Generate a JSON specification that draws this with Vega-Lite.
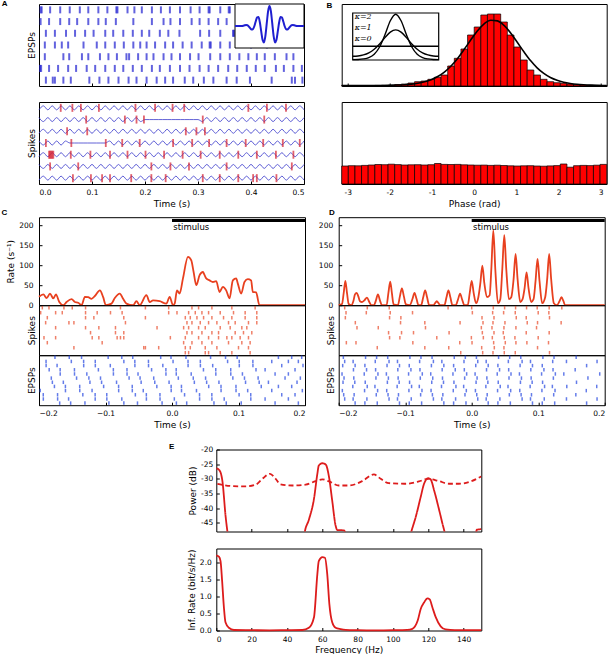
{
"$schema":"https://vega.github.io/schema/vega-lite/v6.json",
"padding":{"left":0,"top":-1,"right":2,"bottom":2},
"background":"white",
"datasets":{
"aTop":[
{"t":0.003,"r":1},{"t":0.005,"r":1},{"t":0.021,"r":1},{"t":0.040,"r":1},{"t":0.058,"r":1},{"t":0.077,"r":1},{"t":0.093,"r":1},{"t":0.112,"r":1},{"t":0.129,"r":1},{"t":0.146,"r":1},{"t":0.148,"r":1},{"t":0.167,"r":1},{"t":0.180,"r":1},{"t":0.194,"r":1},{"t":0.213,"r":1},{"t":0.230,"r":1},{"t":0.247,"r":1},{"t":0.266,"r":1},{"t":0.286,"r":1},{"t":0.303,"r":1},{"t":0.320,"r":1},{"t":0.322,"r":1},{"t":0.342,"r":1},{"t":0.358,"r":1},{"t":0.360,"r":1},{"t":0.380,"r":1},{"t":0.400,"r":1},{"t":0.440,"r":1},{"t":0.470,"r":1},
{"t":0.003,"r":2},{"t":0.019,"r":2},{"t":0.040,"r":2},{"t":0.057,"r":2},{"t":0.072,"r":2},{"t":0.093,"r":2},{"t":0.112,"r":2},{"t":0.126,"r":2},{"t":0.145,"r":2},{"t":0.178,"r":2},{"t":0.213,"r":2},{"t":0.235,"r":2},{"t":0.248,"r":2},{"t":0.266,"r":2},{"t":0.288,"r":2},{"t":0.303,"r":2},{"t":0.320,"r":2},{"t":0.338,"r":2},{"t":0.354,"r":2},{"t":0.390,"r":2},{"t":0.420,"r":2},{"t":0.450,"r":2},
{"t":0.013,"r":3},{"t":0.030,"r":3},{"t":0.051,"r":3},{"t":0.068,"r":3},{"t":0.087,"r":3},{"t":0.103,"r":3},{"t":0.125,"r":3},{"t":0.140,"r":3},{"t":0.159,"r":3},{"t":0.177,"r":3},{"t":0.194,"r":3},{"t":0.208,"r":3},{"t":0.228,"r":3},{"t":0.244,"r":3},{"t":0.265,"r":3},{"t":0.304,"r":3},{"t":0.321,"r":3},{"t":0.342,"r":3},{"t":0.366,"r":3},{"t":0.368,"r":3},{"t":0.410,"r":3},{"t":0.460,"r":3},
{"t":0.011,"r":4},{"t":0.030,"r":4},{"t":0.043,"r":4},{"t":0.055,"r":4},{"t":0.084,"r":4},{"t":0.109,"r":4},{"t":0.125,"r":4},{"t":0.143,"r":4},{"t":0.160,"r":4},{"t":0.178,"r":4},{"t":0.191,"r":4},{"t":0.203,"r":4},{"t":0.219,"r":4},{"t":0.238,"r":4},{"t":0.253,"r":4},{"t":0.271,"r":4},{"t":0.288,"r":4},{"t":0.307,"r":4},{"t":0.322,"r":4},{"t":0.324,"r":4},{"t":0.342,"r":4},{"t":0.360,"r":4},{"t":0.400,"r":4},{"t":0.430,"r":4},
{"t":0.011,"r":5},{"t":0.046,"r":5},{"t":0.057,"r":5},{"t":0.081,"r":5},{"t":0.093,"r":5},{"t":0.115,"r":5},{"t":0.131,"r":5},{"t":0.147,"r":5},{"t":0.165,"r":5},{"t":0.170,"r":5},{"t":0.187,"r":5},{"t":0.203,"r":5},{"t":0.216,"r":5},{"t":0.235,"r":5},{"t":0.250,"r":5},{"t":0.266,"r":5},{"t":0.285,"r":5},{"t":0.301,"r":5},{"t":0.323,"r":5},{"t":0.342,"r":5},{"t":0.360,"r":5},{"t":0.378,"r":5},{"t":0.395,"r":5},{"t":0.411,"r":5},{"t":0.426,"r":5},{"t":0.445,"r":5},{"t":0.467,"r":5},{"t":0.480,"r":5},
{"t":0.002,"r":6},{"t":0.004,"r":6},{"t":0.019,"r":6},{"t":0.036,"r":6},{"t":0.055,"r":6},{"t":0.070,"r":6},{"t":0.090,"r":6},{"t":0.106,"r":6},{"t":0.125,"r":6},{"t":0.143,"r":6},{"t":0.159,"r":6},{"t":0.177,"r":6},{"t":0.194,"r":6},{"t":0.213,"r":6},{"t":0.228,"r":6},{"t":0.247,"r":6},{"t":0.266,"r":6},{"t":0.284,"r":6},{"t":0.303,"r":6},{"t":0.320,"r":6},{"t":0.338,"r":6},{"t":0.357,"r":6},{"t":0.374,"r":6},{"t":0.392,"r":6},{"t":0.409,"r":6},{"t":0.426,"r":6},{"t":0.447,"r":6},{"t":0.462,"r":6},{"t":0.480,"r":6},{"t":0.496,"r":6},
{"t":0.013,"r":7},{"t":0.026,"r":7},{"t":0.030,"r":7},{"t":0.046,"r":7},{"t":0.060,"r":7},{"t":0.095,"r":7},{"t":0.114,"r":7},{"t":0.131,"r":7},{"t":0.150,"r":7},{"t":0.169,"r":7},{"t":0.184,"r":7},{"t":0.203,"r":7},{"t":0.222,"r":7},{"t":0.238,"r":7},{"t":0.253,"r":7},{"t":0.275,"r":7},{"t":0.291,"r":7},{"t":0.311,"r":7},{"t":0.329,"r":7},{"t":0.354,"r":7},{"t":0.373,"r":7},{"t":0.398,"r":7},{"t":0.439,"r":7},{"t":0.477,"r":7},{"t":0.483,"r":7},{"t":0.497,"r":7}
],
"boxA":[{"x0":-1,"x1":1,"y0":-1.1,"y1":1.1}],
"gabor":[
{"x":-1,"y":0},{"x":-0.8,"y":0},{"x":-0.76,"y":0.012},{"x":-0.72,"y":0.034},{"x":-0.68,"y":0.049},{"x":-0.64,"y":0.036},{"x":-0.6,"y":-0.022},{"x":-0.56,"y":-0.109},{"x":-0.52,"y":-0.177},{"x":-0.48,"y":-0.157},{"x":-0.44,"y":-0.013},{"x":-0.4,"y":0.224},{"x":-0.36,"y":0.43},{"x":-0.32,"y":0.448},{"x":-0.28,"y":0.188},{"x":-0.24,"y":-0.272},{"x":-0.2,"y":-0.699},{"x":-0.16,"y":-0.819},{"x":-0.12,"y":-0.503},{"x":-0.08,"y":0.129},{"x":-0.04,"y":0.745},{"x":0,"y":1},
{"x":0.04,"y":0.745},{"x":0.08,"y":0.129},{"x":0.12,"y":-0.503},{"x":0.16,"y":-0.819},{"x":0.2,"y":-0.699},{"x":0.24,"y":-0.272},{"x":0.28,"y":0.188},{"x":0.32,"y":0.448},{"x":0.36,"y":0.43},{"x":0.4,"y":0.224},{"x":0.44,"y":-0.013},{"x":0.48,"y":-0.157},{"x":0.52,"y":-0.177},{"x":0.56,"y":-0.109},{"x":0.6,"y":-0.022},{"x":0.64,"y":0.036},{"x":0.68,"y":0.049},{"x":0.72,"y":0.034},{"x":0.76,"y":0.012},{"x":0.8,"y":0},{"x":1,"y":0}
],
"aWave":[
{"t":0,"w1":1.17,"w2":1.83,"w3":3.17,"w4":3.83,"w5":5.17,"w6":5.83,"w7":7.17},
{"t":0.0083,"w1":0.83,"w2":2.17,"w3":2.83,"w4":4.17,"w5":4.83,"w6":6.17,"w7":6.83},
{"t":0.0167,"w1":1.17,"w2":1.83,"w3":3.17,"w4":3.83,"w5":5.17,"w6":5.83,"w7":7.17},
{"t":0.025,"w1":0.83,"w2":2.17,"w3":2.83,"w4":4.17,"w5":4.83,"w6":6.17,"w7":6.83},
{"t":0.0333,"w1":1.17,"w2":1.83,"w3":3.17,"w4":3.83,"w5":5.17,"w6":5.83,"w7":7.17},
{"t":0.0417,"w1":0.83,"w2":2.17,"w3":2.83,"w4":4.17,"w5":4.83,"w6":6.17,"w7":6.83},
{"t":0.05,"w1":1.17,"w2":1.83,"w3":3.17,"w4":3.83,"w5":5.17,"w6":5.83,"w7":7.17},
{"t":0.0583,"w1":0.83,"w2":2.17,"w3":2.83,"w4":4,"w5":4.83,"w6":6.17,"w7":6.83},
{"t":0.0667,"w1":1.17,"w2":1.83,"w3":3.17,"w4":4,"w5":5.17,"w6":5.83,"w7":7.17},
{"t":0.075,"w1":0.83,"w2":2.17,"w3":2.83,"w4":4,"w5":4.83,"w6":6.17,"w7":6.83},
{"t":0.0833,"w1":1.17,"w2":1.83,"w3":3.17,"w4":4,"w5":5.17,"w6":5.83,"w7":7.17},
{"t":0.0917,"w1":0.83,"w2":2.17,"w3":2.83,"w4":4,"w5":4.83,"w6":6.17,"w7":6.83},
{"t":0.1,"w1":1.17,"w2":1.83,"w3":3.17,"w4":4,"w5":5.17,"w6":5.83,"w7":7.17},
{"t":0.1083,"w1":0.83,"w2":2.17,"w3":2.83,"w4":4,"w5":4.83,"w6":6.17,"w7":6.83},
{"t":0.1167,"w1":1.17,"w2":1.83,"w3":3.17,"w4":4,"w5":5.17,"w6":5.83,"w7":7.17},
{"t":0.125,"w1":0.83,"w2":2.17,"w3":2.83,"w4":4,"w5":4.83,"w6":6.17,"w7":6.83},
{"t":0.1333,"w1":1.17,"w2":1.83,"w3":3.17,"w4":3.83,"w5":5.17,"w6":5.83,"w7":7.17},
{"t":0.1417,"w1":0.83,"w2":2.17,"w3":2.83,"w4":4.17,"w5":4.83,"w6":6.17,"w7":6.83},
{"t":0.15,"w1":1.17,"w2":1.83,"w3":3.17,"w4":3.83,"w5":5.17,"w6":5.83,"w7":7.17},
{"t":0.1583,"w1":0.83,"w2":2.17,"w3":2.83,"w4":4.17,"w5":4.83,"w6":6.17,"w7":6.83},
{"t":0.1667,"w1":1.17,"w2":1.83,"w3":3.17,"w4":3.83,"w5":5.17,"w6":5.83,"w7":7.17},
{"t":0.175,"w1":0.83,"w2":2.17,"w3":2.83,"w4":4.17,"w5":4.83,"w6":6.17,"w7":6.83},
{"t":0.1833,"w1":1.17,"w2":1.83,"w3":3.17,"w4":3.83,"w5":5.17,"w6":5.83,"w7":7.17},
{"t":0.1917,"w1":0.83,"w2":2.17,"w3":2.83,"w4":4.17,"w5":4.83,"w6":6.17,"w7":6.83},
{"t":0.2,"w1":1.17,"w2":2,"w3":3.17,"w4":3.83,"w5":5.17,"w6":5.83,"w7":7.17},
{"t":0.2083,"w1":0.83,"w2":2,"w3":2.83,"w4":4.17,"w5":4.83,"w6":6.17,"w7":6.83},
{"t":0.2167,"w1":1.17,"w2":2,"w3":3.17,"w4":3.83,"w5":5.17,"w6":5.83,"w7":7.17},
{"t":0.225,"w1":0.83,"w2":2,"w3":2.83,"w4":4.17,"w5":4.83,"w6":6.17,"w7":6.83},
{"t":0.2333,"w1":1.17,"w2":2,"w3":3.17,"w4":3.83,"w5":5.17,"w6":5.83,"w7":7.17},
{"t":0.2417,"w1":0.83,"w2":2,"w3":2.83,"w4":4.17,"w5":4.83,"w6":6.17,"w7":6.83},
{"t":0.25,"w1":1.17,"w2":2,"w3":3.17,"w4":3.83,"w5":5.17,"w6":5.83,"w7":7.17},
{"t":0.2583,"w1":0.83,"w2":2,"w3":2.83,"w4":4.17,"w5":4.83,"w6":6.17,"w7":6.83},
{"t":0.2667,"w1":1.17,"w2":2,"w3":3.17,"w4":3.83,"w5":5.17,"w6":5.83,"w7":7.17},
{"t":0.275,"w1":0.83,"w2":2,"w3":2.83,"w4":4.17,"w5":4.83,"w6":6.17,"w7":6.83},
{"t":0.2833,"w1":1.17,"w2":2,"w3":3.17,"w4":3.83,"w5":5.17,"w6":5.83,"w7":7.17},
{"t":0.2917,"w1":0.83,"w2":2,"w3":2.83,"w4":4.17,"w5":4.83,"w6":6.17,"w7":6.83},
{"t":0.3,"w1":1.17,"w2":2,"w3":3.17,"w4":3.83,"w5":5.17,"w6":5.83,"w7":7.17},
{"t":0.3083,"w1":0.83,"w2":2.17,"w3":2.83,"w4":4.17,"w5":4.83,"w6":6.17,"w7":6.83},
{"t":0.3167,"w1":1.17,"w2":1.83,"w3":3.17,"w4":3.83,"w5":5.17,"w6":5.83,"w7":7.17},
{"t":0.325,"w1":0.83,"w2":2.17,"w3":2.83,"w4":4.17,"w5":4.83,"w6":6.17,"w7":6.83},
{"t":0.3333,"w1":1.17,"w2":1.83,"w3":3.17,"w4":3.83,"w5":5.17,"w6":5.83,"w7":7.17},
{"t":0.3417,"w1":0.83,"w2":2.17,"w3":2.83,"w4":4.17,"w5":4.83,"w6":6.17,"w7":6.83},
{"t":0.35,"w1":1.17,"w2":1.83,"w3":3.17,"w4":3.83,"w5":5.17,"w6":5.83,"w7":7.17},
{"t":0.3583,"w1":0.83,"w2":2.17,"w3":2.83,"w4":4.17,"w5":4.83,"w6":6.17,"w7":6.83},
{"t":0.3667,"w1":1.17,"w2":1.83,"w3":3.17,"w4":3.83,"w5":5.17,"w6":5.83,"w7":7.17},
{"t":0.375,"w1":0.83,"w2":2.17,"w3":2.83,"w4":4.17,"w5":4.83,"w6":6.17,"w7":6.83},
{"t":0.3833,"w1":1.17,"w2":1.83,"w3":3.17,"w4":3.83,"w5":5.17,"w6":5.83,"w7":7.17},
{"t":0.3917,"w1":0.83,"w2":2.17,"w3":2.83,"w4":4.17,"w5":4.83,"w6":6.17,"w7":6.83},
{"t":0.4,"w1":1.17,"w2":1.83,"w3":3.17,"w4":3.83,"w5":5.17,"w6":5.83,"w7":7.17},
{"t":0.4083,"w1":0.83,"w2":2.17,"w3":2.83,"w4":4.17,"w5":4.83,"w6":6.17,"w7":6.83},
{"t":0.4167,"w1":1.17,"w2":1.83,"w3":3.17,"w4":3.83,"w5":5.17,"w6":5.83,"w7":7.17},
{"t":0.425,"w1":0.83,"w2":2.17,"w3":2.83,"w4":4.17,"w5":4.83,"w6":6.17,"w7":6.83},
{"t":0.4333,"w1":1.17,"w2":1.83,"w3":3.17,"w4":3.83,"w5":5.17,"w6":5.83,"w7":7.17},
{"t":0.4417,"w1":0.83,"w2":2.17,"w3":2.83,"w4":4.17,"w5":4.83,"w6":6.17,"w7":6.83},
{"t":0.45,"w1":1.17,"w2":1.83,"w3":3.17,"w4":3.83,"w5":5.17,"w6":5.83,"w7":7.17},
{"t":0.4583,"w1":0.83,"w2":2.17,"w3":2.83,"w4":4.17,"w5":4.83,"w6":6.17,"w7":6.83},
{"t":0.4667,"w1":1.17,"w2":1.83,"w3":3.17,"w4":3.83,"w5":5.17,"w6":5.83,"w7":7.17},
{"t":0.475,"w1":0.83,"w2":2.17,"w3":2.83,"w4":4.17,"w5":4.83,"w6":6.17,"w7":6.83},
{"t":0.4833,"w1":1.17,"w2":1.83,"w3":3.17,"w4":3.83,"w5":5.17,"w6":5.83,"w7":7.17},
{"t":0.4917,"w1":0.83,"w2":2.17,"w3":2.83,"w4":4.17,"w5":4.83,"w6":6.17,"w7":6.83},
{"t":0.5,"w1":1.17,"w2":1.83,"w3":3.17,"w4":3.83,"w5":5.17,"w6":5.83,"w7":7.17}
],
"aSpk":[
{"t":0.041,"r":1},{"t":0.063,"r":1},{"t":0.079,"r":1},{"t":0.113,"r":1},{"t":0.182,"r":1},{"t":0.219,"r":1},{"t":0.252,"r":1},{"t":0.274,"r":1},{"t":0.395,"r":1},{"t":0.43,"r":1},{"t":0.466,"r":1},
{"t":0.089,"r":2},{"t":0.162,"r":2},{"t":0.184,"r":2},{"t":0.198,"r":2},{"t":0.309,"r":2},{"t":0.425,"r":2},
{"t":0.053,"r":3},{"t":0.091,"r":3},{"t":0.277,"r":3},{"t":0.297,"r":3},{"t":0.313,"r":3},
{"t":0.013,"r":4},{"t":0.061,"r":4},{"t":0.126,"r":4},{"t":0.157,"r":4},{"t":0.19,"r":4},{"t":0.253,"r":4},{"t":0.289,"r":4},{"t":0.321,"r":4},{"t":0.354,"r":4},{"t":0.39,"r":4},{"t":0.423,"r":4},{"t":0.46,"r":4},{"t":0.492,"r":4},
{"t":0.019,"r":5},{"t":0.021,"r":5},{"t":0.023,"r":5},{"t":0.025,"r":5},{"t":0.027,"r":5},{"t":0.06,"r":5},{"t":0.097,"r":5},{"t":0.134,"r":5},{"t":0.167,"r":5},{"t":0.201,"r":5},{"t":0.236,"r":5},{"t":0.271,"r":5},{"t":0.305,"r":5},{"t":0.341,"r":5},{"t":0.376,"r":5},{"t":0.411,"r":5},{"t":0.447,"r":5},{"t":0.48,"r":5},
{"t":0.021,"r":6},{"t":0.074,"r":6},{"t":0.212,"r":6},{"t":0.248,"r":6},{"t":0.283,"r":6},{"t":0.354,"r":6},{"t":0.477,"r":6},
{"t":0.064,"r":7},{"t":0.098,"r":7},{"t":0.119,"r":7},{"t":0.134,"r":7},{"t":0.174,"r":7},{"t":0.212,"r":7},{"t":0.239,"r":7},{"t":0.309,"r":7},{"t":0.341,"r":7},{"t":0.376,"r":7},{"t":0.404,"r":7},{"t":0.411,"r":7},{"t":0.448,"r":7}
],
"bins":[
{"x0":-3.1416,"x1":-2.9845,"top":0.5,"bot":18.0},{"x0":-2.9845,"x1":-2.8274,"top":0.4,"bot":18.3},{"x0":-2.8274,"x1":-2.6704,"top":0.3,"bot":18.2},{"x0":-2.6704,"x1":-2.5133,"top":0.4,"bot":18.6},{"x0":-2.5133,"x1":-2.3562,"top":0.5,"bot":19.0},{"x0":-2.3562,"x1":-2.1991,"top":0.6,"bot":19.5},{"x0":-2.1991,"x1":-2.042,"top":0.8,"bot":19.3},{"x0":-2.042,"x1":-1.885,"top":1.0,"bot":19.8},{"x0":-1.885,"x1":-1.7279,"top":1.5,"bot":19.4},{"x0":-1.7279,"x1":-1.5708,"top":2.0,"bot":19.0},
{"x0":-1.5708,"x1":-1.4137,"top":3.0,"bot":19.2},{"x0":-1.4137,"x1":-1.2566,"top":4.3,"bot":19.3},{"x0":-1.2566,"x1":-1.0996,"top":5.0,"bot":19.0},{"x0":-1.0996,"x1":-0.9425,"top":6.7,"bot":19.3},{"x0":-0.9425,"x1":-0.7854,"top":8.7,"bot":20.5},{"x0":-0.7854,"x1":-0.6283,"top":11.0,"bot":19.6},{"x0":-0.6283,"x1":-0.4712,"top":20.0,"bot":19.5},{"x0":-0.4712,"x1":-0.3142,"top":27.7,"bot":19.6},{"x0":-0.3142,"x1":-0.1571,"top":37.0,"bot":19.2},{"x0":-0.1571,"x1":0,"top":51.0,"bot":19.0},
{"x0":0,"x1":0.1571,"top":59.0,"bot":18.8},{"x0":0.1571,"x1":0.3142,"top":71.0,"bot":18.9},{"x0":0.3142,"x1":0.4712,"top":72.0,"bot":18.6},{"x0":0.4712,"x1":0.6283,"top":72.0,"bot":18.8},{"x0":0.6283,"x1":0.7854,"top":64.0,"bot":18.5},{"x0":0.7854,"x1":0.9425,"top":51.0,"bot":18.2},{"x0":0.9425,"x1":1.0996,"top":39.0,"bot":18.0},{"x0":1.0996,"x1":1.2566,"top":26.0,"bot":18.2},{"x0":1.2566,"x1":1.4137,"top":16.0,"bot":18.3},{"x0":1.4137,"x1":1.5708,"top":11.0,"bot":18.0},
{"x0":1.5708,"x1":1.7279,"top":6.7,"bot":17.8},{"x0":1.7279,"x1":1.885,"top":4.3,"bot":18.1},{"x0":1.885,"x1":2.042,"top":3.3,"bot":18.4},{"x0":2.042,"x1":2.1991,"top":2.7,"bot":20.0},{"x0":2.1991,"x1":2.3562,"top":2.0,"bot":16.8},{"x0":2.3562,"x1":2.5133,"top":1.3,"bot":18.3},{"x0":2.5133,"x1":2.6704,"top":1.0,"bot":18.6},{"x0":2.6704,"x1":2.8274,"top":0.8,"bot":18.4},{"x0":2.8274,"x1":2.9845,"top":0.6,"bot":18.8},{"x0":2.9845,"x1":3.1416,"top":0.5,"bot":19.6}
],
"bCurve":[
{"x":-3.1416,"y":0.47},{"x":-3.063,"y":0.43},{"x":-2.906,"y":0.39},{"x":-2.749,"y":0.37},{"x":-2.592,"y":0.37},{"x":-2.435,"y":0.4},{"x":-2.278,"y":0.45},{"x":-2.121,"y":0.55},{"x":-1.964,"y":0.7},{"x":-1.807,"y":0.94},{"x":-1.65,"y":1.32},{"x":-1.492,"y":1.91},{"x":-1.335,"y":2.82},{"x":-1.178,"y":4.23},{"x":-1.021,"y":6.36},{"x":-0.864,"y":9.49},{"x":-0.707,"y":13.9},{"x":-0.55,"y":19.96},{"x":-0.393,"y":27.6},{"x":-0.236,"y":36.7},{"x":-0.079,"y":46.2},
{"x":0.079,"y":55.3},{"x":0.236,"y":62.2},{"x":0.393,"y":65.7},{"x":0.55,"y":65.1},{"x":0.707,"y":60.6},{"x":0.864,"y":53.1},{"x":1.021,"y":43.7},{"x":1.178,"y":34.2},{"x":1.335,"y":25.4},{"x":1.492,"y":18.2},{"x":1.65,"y":12.6},{"x":1.807,"y":8.5},{"x":1.964,"y":5.7},{"x":2.121,"y":3.78},{"x":2.278,"y":2.54},{"x":2.435,"y":1.72},{"x":2.592,"y":1.2},{"x":2.749,"y":0.87},{"x":2.906,"y":0.65},{"x":3.063,"y":0.52},{"x":3.1416,"y":0.47}
],
"boxB":[{"x0":-3.1416,"x1":3.1416,"y0":0.005,"y1":0.53}],
"vm":[
{"x":-3.1416,"k2":0.00945,"k1":0.0462,"k0":0.1592},{"x":-2.7489,"k2":0.011,"k1":0.0499,"k0":0.1592},{"x":-2.3562,"k2":0.017,"k1":0.062,"k0":0.1592},{"x":-1.9635,"k2":0.0325,"k1":0.0857,"k0":0.1592},{"x":-1.5708,"k2":0.0698,"k1":0.1257,"k0":0.1592},{"x":-1.1781,"k2":0.1502,"k1":0.1844,"k0":0.1592},{"x":-0.7854,"k2":0.2872,"k1":0.2549,"k0":0.1592},{"x":-0.3927,"k2":0.4431,"k1":0.3167,"k0":0.1592},{"x":0,"k2":0.5159,"k1":0.3417,"k0":0.1592},
{"x":0.3927,"k2":0.4431,"k1":0.3167,"k0":0.1592},{"x":0.7854,"k2":0.2872,"k1":0.2549,"k0":0.1592},{"x":1.1781,"k2":0.1502,"k1":0.1844,"k0":0.1592},{"x":1.5708,"k2":0.0698,"k1":0.1257,"k0":0.1592},{"x":1.9635,"k2":0.0325,"k1":0.0857,"k0":0.1592},{"x":2.3562,"k2":0.017,"k1":0.062,"k0":0.1592},{"x":2.7489,"k2":0.011,"k1":0.0499,"k0":0.1592},{"x":3.1416,"k2":0.00945,"k1":0.0462,"k0":0.1592}
],
"vmText":[{"x":-3.0,"y":0.485,"s":"κ=2"},{"x":-3.0,"y":0.362,"s":"κ=1"},{"x":-3.0,"y":0.24,"s":"κ=0"}],
"stim":[{"t0":0,"t1":0.2,"y":212}],
"stimText":[{"t":0.002,"y":206,"s":"stimulus"}],
"cRate":[
{"t":-0.2,"v":21},{"t":-0.1935,"v":27},{"t":-0.1885,"v":18},{"t":-0.1835,"v":29},{"t":-0.1785,"v":17},{"t":-0.1745,"v":27},{"t":-0.1695,"v":8},{"t":-0.1635,"v":0},{"t":-0.1585,"v":8},{"t":-0.151,"v":15},{"t":-0.146,"v":8},{"t":-0.141,"v":6},{"t":-0.136,"v":0},{"t":-0.131,"v":21},{"t":-0.126,"v":20},{"t":-0.121,"v":16},{"t":-0.116,"v":23},{"t":-0.1085,"v":37},{"t":-0.1035,"v":20},{"t":-0.0995,"v":0},{"t":-0.091,"v":4},{"t":-0.086,"v":18},{"t":-0.0785,"v":29},{"t":-0.0735,"v":16},{"t":-0.0685,"v":4},{"t":-0.0585,"v":0},{"t":-0.0535,"v":10},{"t":-0.0485,"v":0},{"t":-0.0385,"v":25},{"t":-0.0335,"v":8},{"t":-0.0285,"v":12},{"t":-0.0185,"v":10},{"t":-0.0085,"v":4},{"t":-0.0035,"v":21},{"t":0.0015,"v":0},{"t":0.004,"v":4},{"t":0.0075,"v":37},{"t":0.0115,"v":29},{"t":0.0165,"v":67},{"t":0.024,"v":121},{"t":0.029,"v":112},{"t":0.0325,"v":83},{"t":0.0365,"v":50},{"t":0.0415,"v":75},{"t":0.0465,"v":83},{"t":0.049,"v":75},{"t":0.0515,"v":67},{"t":0.0565,"v":62},{"t":0.0615,"v":58},{"t":0.0665,"v":60},{"t":0.0715,"v":33},{"t":0.0765,"v":46},{"t":0.0815,"v":37},{"t":0.0865,"v":17},{"t":0.0915,"v":62},{"t":0.0965,"v":67},{"t":0.099,"v":54},{"t":0.104,"v":29},{"t":0.109,"v":58},{"t":0.114,"v":65},{"t":0.119,"v":62},{"t":0.1215,"v":33},{"t":0.1265,"v":32},{"t":0.1315,"v":0},{"t":0.2,"v":0}
],
"cSpk":[
{"t":-0.195,"r":0},{"t":-0.185,"r":0},{"t":-0.1625,"r":0},{"t":-0.15,"r":0},{"t":-0.13,"r":0},{"t":-0.0775,"r":0},{"t":-0.04,"r":0},{"t":-0.005,"r":0},{"t":0.03,"r":0},{"t":0.04,"r":0},{"t":0.06,"r":0},{"t":0.09,"r":0},{"t":0.125,"r":0},
{"t":-0.1975,"r":1},{"t":-0.175,"r":1},{"t":-0.165,"r":1},{"t":-0.13,"r":1},{"t":-0.1125,"r":1},{"t":-0.0925,"r":1},{"t":-0.075,"r":1},{"t":-0.005,"r":1},{"t":0.0075,"r":1},{"t":0.025,"r":1},{"t":0.035,"r":1},{"t":0.045,"r":1},{"t":0.055,"r":1},{"t":0.0725,"r":1},{"t":0.0925,"r":1},{"t":0.11,"r":1},{"t":0.1275,"r":1},
{"t":-0.1875,"r":2},{"t":-0.13,"r":2},{"t":-0.1175,"r":2},{"t":-0.0725,"r":2},{"t":-0.04,"r":2},{"t":0.02,"r":2},{"t":0.0275,"r":2},{"t":0.0375,"r":2},{"t":0.0475,"r":2},{"t":0.06,"r":2},{"t":0.0775,"r":2},{"t":0.09,"r":2},{"t":0.11,"r":2},{"t":0.1275,"r":2},
{"t":-0.19,"r":3},{"t":-0.155,"r":3},{"t":-0.1475,"r":3},{"t":-0.07,"r":3},{"t":0.0225,"r":3},{"t":0.03,"r":3},{"t":0.0425,"r":3},{"t":0.055,"r":3},{"t":0.0675,"r":3},{"t":0.085,"r":3},{"t":0.095,"r":3},{"t":0.115,"r":3},{"t":0.1275,"r":3},
{"t":-0.175,"r":4},{"t":-0.13,"r":4},{"t":-0.11,"r":4},{"t":-0.085,"r":4},{"t":-0.0225,"r":4},{"t":0.0175,"r":4},{"t":0.025,"r":4},{"t":0.04,"r":4},{"t":0.05,"r":4},{"t":0.0725,"r":4},{"t":0.0875,"r":4},{"t":0.105,"r":4},{"t":0.1125,"r":4},
{"t":-0.1225,"r":5},{"t":-0.085,"r":5},{"t":-0.0725,"r":5},{"t":0.0225,"r":5},{"t":0.03,"r":5},{"t":0.045,"r":5},{"t":0.06,"r":5},{"t":0.07,"r":5},{"t":0.095,"r":5},{"t":0.1075,"r":5},{"t":0.12,"r":5},
{"t":-0.1925,"r":6},{"t":-0.175,"r":6},{"t":-0.12,"r":6},{"t":-0.11,"r":6},{"t":-0.0825,"r":6},{"t":-0.0775,"r":6},{"t":-0.0725,"r":6},{"t":-0.0025,"r":6},{"t":0.02,"r":6},{"t":0.04,"r":6},{"t":0.055,"r":6},{"t":0.07,"r":6},{"t":0.0825,"r":6},{"t":0.09,"r":6},{"t":0.1025,"r":6},{"t":0.115,"r":6},
{"t":-0.1875,"r":7},{"t":-0.105,"r":7},{"t":0.0175,"r":7},{"t":0.03,"r":7},{"t":0.045,"r":7},{"t":0.06,"r":7},{"t":0.085,"r":7},{"t":0.105,"r":7},{"t":0.1175,"r":7},
{"t":-0.1475,"r":8},{"t":-0.0425,"r":8},{"t":-0.04,"r":8},{"t":-0.02,"r":8},{"t":0.02,"r":8},{"t":0.0275,"r":8},{"t":0.05,"r":8},{"t":0.0675,"r":8},{"t":0.1,"r":8},{"t":0.115,"r":8},
{"t":0.02,"r":9},{"t":0.025,"r":9},{"t":0.05,"r":9},{"t":0.055,"r":9},{"t":0.0725,"r":9},{"t":0.09,"r":9},{"t":0.1175,"r":9}
],
"cEpsp":[
{"t":-0.176,"r":0},{"t":-0.1545,"r":0},{"t":-0.136,"r":0},{"t":-0.096,"r":0},{"t":-0.0755,"r":0},{"t":-0.059,"r":0},{"t":-0.017,"r":0},{"t":-0.0015,"r":0},{"t":0.021,"r":0},{"t":0.058,"r":0},{"t":0.0805,"r":0},{"t":0.098,"r":0},{"t":0.16,"r":0},{"t":0.18,"r":0},{"t":0.195,"r":0},
{"t":-0.1894,"r":1},{"t":-0.1514,"r":1},{"t":-0.1329,"r":1},{"t":-0.1154,"r":1},{"t":-0.0724,"r":1},{"t":-0.0559,"r":1},{"t":-0.0354,"r":1},{"t":0.0016,"r":1},{"t":0.0241,"r":1},{"t":0.0426,"r":1},{"t":0.0836,"r":1},{"t":0.1011,"r":1},{"t":0.1216,"r":1},{"t":0.15,"r":1},{"t":0.175,"r":1},{"t":0.19,"r":1},
{"t":-0.1893,"r":2},{"t":-0.1728,"r":2},{"t":-0.1328,"r":2},{"t":-0.1153,"r":2},{"t":-0.0928,"r":2},{"t":-0.0558,"r":2},{"t":-0.0353,"r":2},{"t":-0.0138,"r":2},{"t":0.0242,"r":2},{"t":0.0427,"r":2},{"t":0.0612,"r":2},{"t":0.1012,"r":2},{"t":0.1217,"r":2},{"t":0.165,"r":2},{"t":0.197,"r":2},
{"t":-0.1847,"r":3},{"t":-0.1682,"r":3},{"t":-0.1467,"r":3},{"t":-0.1107,"r":3},{"t":-0.0882,"r":3},{"t":-0.0677,"r":3},{"t":-0.0307,"r":3},{"t":-0.0092,"r":3},{"t":0.0063,"r":3},{"t":0.0473,"r":3},{"t":0.0658,"r":3},{"t":0.0883,"r":3},{"t":0.1263,"r":3},{"t":0.14,"r":3},{"t":0.185,"r":3},
{"t":-0.1681,"r":4},{"t":-0.1466,"r":4},{"t":-0.1281,"r":4},{"t":-0.0881,"r":4},{"t":-0.0676,"r":4},{"t":-0.0511,"r":4},{"t":-0.0091,"r":4},{"t":0.0064,"r":4},{"t":0.0289,"r":4},{"t":0.0659,"r":4},{"t":0.0884,"r":4},{"t":0.1059,"r":4},{"t":0.155,"r":4},{"t":0.175,"r":4},
{"t":-0.1815,"r":5},{"t":-0.1435,"r":5},{"t":-0.125,"r":5},{"t":-0.1075,"r":5},{"t":-0.0645,"r":5},{"t":-0.048,"r":5},{"t":-0.0275,"r":5},{"t":0.0095,"r":5},{"t":0.032,"r":5},{"t":0.0505,"r":5},{"t":0.0915,"r":5},{"t":0.109,"r":5},{"t":0.1295,"r":5},{"t":0.17,"r":5},{"t":0.193,"r":5},
{"t":-0.1799,"r":6},{"t":-0.1634,"r":6},{"t":-0.1234,"r":6},{"t":-0.1059,"r":6},{"t":-0.0834,"r":6},{"t":-0.0464,"r":6},{"t":-0.0259,"r":6},{"t":-0.0044,"r":6},{"t":0.0336,"r":6},{"t":0.0521,"r":6},{"t":0.0706,"r":6},{"t":0.1106,"r":6},{"t":0.1311,"r":6},{"t":0.145,"r":6},{"t":0.188,"r":6},
{"t":-0.1768,"r":7},{"t":-0.1603,"r":7},{"t":-0.1388,"r":7},{"t":-0.1028,"r":7},{"t":-0.0803,"r":7},{"t":-0.0598,"r":7},{"t":-0.0228,"r":7},{"t":-0.0013,"r":7},{"t":0.0142,"r":7},{"t":0.0552,"r":7},{"t":0.0737,"r":7},{"t":0.0962,"r":7},{"t":0.1342,"r":7},{"t":0.16,"r":7},{"t":0.18,"r":7},
{"t":-0.1982,"r":8},{"t":-0.1602,"r":8},{"t":-0.1387,"r":8},{"t":-0.1202,"r":8},{"t":-0.0802,"r":8},{"t":-0.0597,"r":8},{"t":-0.0432,"r":8},{"t":-0.0012,"r":8},{"t":0.0143,"r":8},{"t":0.0368,"r":8},{"t":0.0738,"r":8},{"t":0.0963,"r":8},{"t":0.1138,"r":8},{"t":0.15,"r":8},{"t":0.196,"r":8},
{"t":-0.1936,"r":9},{"t":-0.1721,"r":9},{"t":-0.1341,"r":9},{"t":-0.1156,"r":9},{"t":-0.0981,"r":9},{"t":-0.0551,"r":9},{"t":-0.0386,"r":9},{"t":-0.0181,"r":9},{"t":0.0189,"r":9},{"t":0.0414,"r":9},{"t":0.0599,"r":9},{"t":0.1009,"r":9},{"t":0.1184,"r":9},{"t":0.165,"r":9},{"t":0.185,"r":9},
{"t":-0.1935,"r":10},{"t":-0.172,"r":10},{"t":-0.1555,"r":10},{"t":-0.1155,"r":10},{"t":-0.098,"r":10},{"t":-0.0755,"r":10},{"t":-0.0385,"r":10},{"t":-0.018,"r":10},{"t":0.0035,"r":10},{"t":0.0415,"r":10},{"t":0.06,"r":10},{"t":0.0785,"r":10},{"t":0.1185,"r":10},{"t":0.14,"r":10},{"t":0.175,"r":10},
{"t":-0.1689,"r":11},{"t":-0.1524,"r":11},{"t":-0.1309,"r":11},{"t":-0.0949,"r":11},{"t":-0.0724,"r":11},{"t":-0.0519,"r":11},{"t":-0.0149,"r":11},{"t":0.0066,"r":11},{"t":0.0221,"r":11},{"t":0.0631,"r":11},{"t":0.0816,"r":11},{"t":0.1041,"r":11},{"t":0.155,"r":11},{"t":0.19,"r":11}
],
"dRate":[
{"t":-0.2,"v":0},{"t":-0.195,"v":3},{"t":-0.1925,"v":30},{"t":-0.19,"v":61},{"t":-0.1875,"v":30},{"t":-0.185,"v":3},{"t":-0.181,"v":0},{"t":-0.178,"v":10},{"t":-0.1755,"v":27},{"t":-0.173,"v":31},{"t":-0.1705,"v":22},{"t":-0.168,"v":10},{"t":-0.165,"v":8},{"t":-0.1615,"v":12},{"t":-0.1575,"v":19},{"t":-0.154,"v":8},{"t":-0.151,"v":0},{"t":-0.147,"v":0},{"t":-0.144,"v":12},{"t":-0.141,"v":27},{"t":-0.138,"v":12},{"t":-0.135,"v":0},{"t":-0.128,"v":0},{"t":-0.1253,"v":30},{"t":-0.1225,"v":59},{"t":-0.12,"v":30},{"t":-0.1175,"v":2},{"t":-0.111,"v":0},{"t":-0.108,"v":22},{"t":-0.105,"v":42},{"t":-0.102,"v":22},{"t":-0.099,"v":2},{"t":-0.093,"v":0},{"t":-0.089,"v":16},{"t":-0.086,"v":31},{"t":-0.083,"v":16},{"t":-0.08,"v":0},{"t":-0.076,"v":0},{"t":-0.073,"v":19},{"t":-0.07,"v":37},{"t":-0.067,"v":19},{"t":-0.064,"v":0},{"t":-0.058,"v":0},{"t":-0.055,"v":5},{"t":-0.0525,"v":10},{"t":-0.05,"v":5},{"t":-0.047,"v":0},{"t":-0.041,"v":0},{"t":-0.038,"v":19},{"t":-0.035,"v":37},{"t":-0.032,"v":19},{"t":-0.029,"v":0},{"t":-0.024,"v":0},{"t":-0.0205,"v":15},{"t":-0.0175,"v":29},{"t":-0.0145,"v":15},{"t":-0.011,"v":0},{"t":-0.006,"v":0},{"t":-0.003,"v":30},{"t":0,"v":61},{"t":0.003,"v":30},{"t":0.0065,"v":5},{"t":0.01,"v":20},{"t":0.013,"v":55},{"t":0.016,"v":99},{"t":0.019,"v":55},{"t":0.023,"v":20},{"t":0.027,"v":25},{"t":0.0295,"v":90},{"t":0.0325,"v":187},{"t":0.0355,"v":90},{"t":0.0395,"v":5},{"t":0.043,"v":15},{"t":0.046,"v":90},{"t":0.049,"v":175},{"t":0.052,"v":90},{"t":0.056,"v":15},{"t":0.0595,"v":20},{"t":0.063,"v":65},{"t":0.066,"v":128},{"t":0.069,"v":65},{"t":0.073,"v":8},{"t":0.0765,"v":15},{"t":0.0795,"v":42},{"t":0.0825,"v":82},{"t":0.0855,"v":42},{"t":0.0895,"v":8},{"t":0.093,"v":15},{"t":0.096,"v":60},{"t":0.099,"v":116},{"t":0.102,"v":60},{"t":0.106,"v":5},{"t":0.1105,"v":20},{"t":0.1135,"v":65},{"t":0.1165,"v":128},{"t":0.1195,"v":65},{"t":0.1235,"v":5},{"t":0.128,"v":0},{"t":0.132,"v":10},{"t":0.135,"v":20},{"t":0.138,"v":10},{"t":0.1405,"v":0},{"t":0.2,"v":0}
],
"dSpk":[
{"t":-0.191,"r":0},{"t":-0.189,"r":1},{"t":-0.19,"r":2},{"t":-0.1885,"r":7},
{"t":-0.175,"r":3},{"t":-0.1725,"r":4},{"t":-0.174,"r":7},
{"t":-0.157,"r":0},{"t":-0.1585,"r":1},
{"t":-0.1405,"r":4},{"t":-0.142,"r":8},
{"t":-0.124,"r":0},{"t":-0.1225,"r":1},{"t":-0.1235,"r":2},{"t":-0.125,"r":5},{"t":-0.1235,"r":6},
{"t":-0.1065,"r":2},{"t":-0.107,"r":3},{"t":-0.1055,"r":5},{"t":-0.108,"r":6},
{"t":-0.089,"r":1},{"t":-0.0875,"r":5},{"t":-0.0885,"r":7},
{"t":-0.0705,"r":3},{"t":-0.0695,"r":4},{"t":-0.0705,"r":8},
{"t":-0.0525,"r":6},
{"t":-0.0355,"r":0},{"t":-0.034,"r":5},{"t":-0.0345,"r":8},
{"t":-0.0175,"r":3},{"t":-0.018,"r":7},{"t":-0.0165,"r":9},
{"t":0,"r":0},{"t":0.001,"r":1},{"t":-0.0005,"r":6},{"t":0.0005,"r":7},
{"t":0.0155,"r":2},{"t":0.017,"r":3},{"t":0.0145,"r":4},{"t":0.016,"r":5},{"t":0.0175,"r":6},{"t":0.015,"r":8},{"t":0.0165,"r":9},
{"t":0.0325,"r":0},{"t":0.0315,"r":1},{"t":0.0335,"r":2},{"t":0.032,"r":3},{"t":0.0305,"r":4},{"t":0.0335,"r":5},{"t":0.031,"r":6},{"t":0.033,"r":7},{"t":0.034,"r":8},{"t":0.032,"r":9},
{"t":0.0495,"r":0},{"t":0.048,"r":1},{"t":0.05,"r":3},{"t":0.0485,"r":4},{"t":0.0475,"r":5},{"t":0.049,"r":6},{"t":0.0505,"r":7},{"t":0.0485,"r":8},{"t":0.049,"r":9},
{"t":0.066,"r":0},{"t":0.0655,"r":1},{"t":0.067,"r":2},{"t":0.0665,"r":4},{"t":0.065,"r":6},{"t":0.0665,"r":7},{"t":0.0655,"r":9},
{"t":0.0825,"r":0},{"t":0.082,"r":2},{"t":0.0835,"r":3},{"t":0.082,"r":5},{"t":0.083,"r":7},
{"t":0.0985,"r":0},{"t":0.1,"r":1},{"t":0.099,"r":3},{"t":0.0975,"r":4},{"t":0.1,"r":6},{"t":0.099,"r":8},
{"t":0.1165,"r":0},{"t":0.116,"r":1},{"t":0.117,"r":2},{"t":0.1165,"r":5},{"t":0.1155,"r":7},{"t":0.117,"r":9},
{"t":0.1355,"r":0},{"t":0.1345,"r":3}
],
"dEpsp":[
{"t":-0.193,"r":0},{"t":-0.1596,"r":0},{"t":-0.143,"r":0},{"t":-0.1263,"r":0},{"t":-0.0929,"r":0},{"t":-0.0763,"r":0},{"t":-0.0596,"r":0},{"t":-0.0262,"r":0},{"t":-0.0096,"r":0},{"t":0.0071,"r":0},{"t":0.0404,"r":0},{"t":0.0571,"r":0},{"t":0.0738,"r":0},{"t":0.1071,"r":0},{"t":0.1238,"r":0},{"t":0.1571,"r":0},
{"t":-0.191,"r":1},{"t":-0.1783,"r":1},{"t":-0.145,"r":1},{"t":-0.1243,"r":1},{"t":-0.1116,"r":1},{"t":-0.0783,"r":1},{"t":-0.0576,"r":1},{"t":-0.0449,"r":1},{"t":-0.0116,"r":1},{"t":0.0091,"r":1},{"t":0.0218,"r":1},{"t":0.0551,"r":1},{"t":0.0758,"r":1},{"t":0.0884,"r":1},{"t":0.1218,"r":1},{"t":0.1425,"r":1},{"t":0.1885,"r":1},
{"t":-0.194,"r":2},{"t":-0.1753,"r":2},{"t":-0.1606,"r":2},{"t":-0.1273,"r":2},{"t":-0.1086,"r":2},{"t":-0.0939,"r":2},{"t":-0.0606,"r":2},{"t":-0.0419,"r":2},{"t":-0.0272,"r":2},{"t":0.0061,"r":2},{"t":0.0248,"r":2},{"t":0.0394,"r":2},{"t":0.0728,"r":2},{"t":0.0914,"r":2},{"t":0.1061,"r":2},{"t":0.1728,"r":2},
{"t":-0.1778,"r":3},{"t":-0.1581,"r":3},{"t":-0.1445,"r":3},{"t":-0.1111,"r":3},{"t":-0.0914,"r":3},{"t":-0.0778,"r":3},{"t":-0.0444,"r":3},{"t":-0.0247,"r":3},{"t":-0.0111,"r":3},{"t":0.0223,"r":3},{"t":0.0419,"r":3},{"t":0.0556,"r":3},{"t":0.0889,"r":3},{"t":0.1086,"r":3},{"t":0.1223,"r":3},{"t":0.1556,"r":3},
{"t":-0.195,"r":4},{"t":-0.1616,"r":4},{"t":-0.141,"r":4},{"t":-0.1283,"r":4},{"t":-0.0949,"r":4},{"t":-0.0743,"r":4},{"t":-0.0616,"r":4},{"t":-0.0282,"r":4},{"t":-0.0076,"r":4},{"t":0.0051,"r":4},{"t":0.0384,"r":4},{"t":0.0591,"r":4},{"t":0.0718,"r":4},{"t":0.1051,"r":4},{"t":0.1258,"r":4},{"t":0.1385,"r":4},{"t":0.1925,"r":4},
{"t":-0.192,"r":5},{"t":-0.1773,"r":5},{"t":-0.144,"r":5},{"t":-0.1253,"r":5},{"t":-0.1106,"r":5},{"t":-0.0773,"r":5},{"t":-0.0586,"r":5},{"t":-0.0439,"r":5},{"t":-0.0106,"r":5},{"t":0.0081,"r":5},{"t":0.0228,"r":5},{"t":0.0561,"r":5},{"t":0.0748,"r":5},{"t":0.0894,"r":5},{"t":0.1228,"r":5},{"t":0.1748,"r":5},
{"t":-0.1935,"r":6},{"t":-0.1758,"r":6},{"t":-0.1601,"r":6},{"t":-0.1268,"r":6},{"t":-0.1091,"r":6},{"t":-0.0934,"r":6},{"t":-0.0601,"r":6},{"t":-0.0424,"r":6},{"t":-0.0267,"r":6},{"t":0.0066,"r":6},{"t":0.0243,"r":6},{"t":0.0399,"r":6},{"t":0.0733,"r":6},{"t":0.0909,"r":6},{"t":0.1066,"r":6},{"t":0.1576,"r":6},
{"t":-0.1788,"r":7},{"t":-0.1571,"r":7},{"t":-0.1455,"r":7},{"t":-0.1121,"r":7},{"t":-0.0904,"r":7},{"t":-0.0788,"r":7},{"t":-0.0454,"r":7},{"t":-0.0237,"r":7},{"t":-0.0121,"r":7},{"t":0.0213,"r":7},{"t":0.0429,"r":7},{"t":0.0546,"r":7},{"t":0.0879,"r":7},{"t":0.1096,"r":7},{"t":0.1213,"r":7},{"t":0.143,"r":7},{"t":0.188,"r":7},
{"t":-0.1945,"r":8},{"t":-0.1611,"r":8},{"t":-0.1415,"r":8},{"t":-0.1278,"r":8},{"t":-0.0944,"r":8},{"t":-0.0748,"r":8},{"t":-0.0611,"r":8},{"t":-0.0277,"r":8},{"t":-0.0081,"r":8},{"t":0.0056,"r":8},{"t":0.0389,"r":8},{"t":0.0586,"r":8},{"t":0.0723,"r":8},{"t":0.1056,"r":8},{"t":0.1253,"r":8},{"t":0.1723,"r":8},
{"t":-0.1925,"r":9},{"t":-0.1768,"r":9},{"t":-0.1435,"r":9},{"t":-0.1258,"r":9},{"t":-0.1101,"r":9},{"t":-0.0768,"r":9},{"t":-0.0591,"r":9},{"t":-0.0434,"r":9},{"t":-0.0101,"r":9},{"t":0.0076,"r":9},{"t":0.0233,"r":9},{"t":0.0566,"r":9},{"t":0.0743,"r":9},{"t":0.0899,"r":9},{"t":0.1233,"r":9},{"t":0.1566,"r":9},
{"t":-0.191,"r":10},{"t":-0.1783,"r":10},{"t":-0.1576,"r":10},{"t":-0.1243,"r":10},{"t":-0.1116,"r":10},{"t":-0.0909,"r":10},{"t":-0.0576,"r":10},{"t":-0.0449,"r":10},{"t":-0.0242,"r":10},{"t":0.0091,"r":10},{"t":0.0218,"r":10},{"t":0.0424,"r":10},{"t":0.0758,"r":10},{"t":0.0884,"r":10},{"t":0.1091,"r":10},{"t":0.1425,"r":10},{"t":0.1885,"r":10},
{"t":-0.1753,"r":11},{"t":-0.1606,"r":11},{"t":-0.142,"r":11},{"t":-0.1086,"r":11},{"t":-0.0939,"r":11},{"t":-0.0753,"r":11},{"t":-0.0419,"r":11},{"t":-0.0272,"r":11},{"t":-0.0086,"r":11},{"t":0.0248,"r":11},{"t":0.0394,"r":11},{"t":0.0581,"r":11},{"t":0.0914,"r":11},{"t":0.1061,"r":11},{"t":0.1248,"r":11},{"t":0.1728,"r":11}
],
"ePow":[
{"f":0,"d":-26.4,"k":"a"},{"f":2,"d":-27.3,"k":"a"},{"f":3.5,"d":-31,"k":"a"},{"f":5.3,"d":-43,"k":"a"},{"f":6.5,"d":-49,"k":"a"},{"f":8,"d":-55,"k":"a"},{"f":20,"d":-60,"k":"a"},{"f":48,"d":-60,"k":"a"},{"f":50,"d":-48.5,"k":"a"},{"f":52.4,"d":-44,"k":"a"},{"f":55.3,"d":-36.8,"k":"a"},{"f":57.2,"d":-28.3,"k":"a"},{"f":58,"d":-25.5,"k":"a"},{"f":60,"d":-24.7,"k":"a"},{"f":61.9,"d":-25.1,"k":"a"},{"f":63.8,"d":-29.4,"k":"a"},{"f":65.6,"d":-37.4,"k":"a"},{"f":67.5,"d":-45.9,"k":"a"},{"f":68.5,"d":-47.5,"k":"a"},{"f":72,"d":-47.6,"k":"a"},{"f":73.5,"d":-49,"k":"a"},{"f":76,"d":-60,"k":"a"},{"f":105,"d":-60,"k":"a"},{"f":110.6,"d":-47.6,"k":"a"},{"f":112.9,"d":-43,"k":"a"},{"f":115.7,"d":-36.2,"k":"a"},{"f":117.6,"d":-31.7,"k":"a"},{"f":120,"d":-29.8,"k":"a"},{"f":121.4,"d":-30.3,"k":"a"},{"f":123.3,"d":-34,"k":"a"},{"f":126.2,"d":-40.8,"k":"a"},{"f":128,"d":-45.3,"k":"a"},{"f":129.5,"d":-49,"k":"a"},{"f":132,"d":-60,"k":"a"},{"f":145,"d":-60,"k":"a"},{"f":147.5,"d":-47.4,"k":"a"},{"f":150,"d":-47.2,"k":"a"},
{"f":0.6,"d":-31.7,"k":"b"},{"f":9.07,"d":-32.5,"k":"b"},{"f":16.6,"d":-32.6,"k":"b"},{"f":22.3,"d":-32,"k":"b"},{"f":26.1,"d":-30,"k":"b"},{"f":30.4,"d":-28.3,"k":"b"},{"f":33.6,"d":-30,"k":"b"},{"f":36.4,"d":-31.9,"k":"b"},{"f":43,"d":-32.3,"k":"b"},{"f":50.6,"d":-32,"k":"b"},{"f":56.2,"d":-30.8,"k":"b"},{"f":60,"d":-30.2,"k":"b"},{"f":63.8,"d":-30.9,"k":"b"},{"f":69.4,"d":-32.3,"k":"b"},{"f":75.1,"d":-32.3,"k":"b"},{"f":82.6,"d":-30.8,"k":"b"},{"f":89.2,"d":-28.5,"k":"b"},{"f":93,"d":-30,"k":"b"},{"f":97.7,"d":-31.5,"k":"b"},{"f":107.1,"d":-31.7,"k":"b"},{"f":114.7,"d":-30.9,"k":"b"},{"f":119.9,"d":-30,"k":"b"},{"f":126,"d":-30.8,"k":"b"},{"f":131.6,"d":-31.7,"k":"b"},{"f":137.3,"d":-31.7,"k":"b"},{"f":143,"d":-31.1,"k":"b"},{"f":150,"d":-29.2,"k":"b"}
],
"eInf":[
{"f":0,"v":2.2},{"f":1.5,"v":2.16},{"f":2.4,"v":2.03},{"f":3.3,"v":1.45},{"f":4.3,"v":0.68},{"f":5.2,"v":0.24},{"f":7.1,"v":0.08},{"f":10,"v":0.015},{"f":20,"v":0.01},{"f":30,"v":0.005},{"f":40,"v":0.01},{"f":48.7,"v":0.015},{"f":52.4,"v":0.08},{"f":55.3,"v":0.39},{"f":57.2,"v":1.65},{"f":58,"v":2.03},{"f":60,"v":2.15},{"f":61.5,"v":2.13},{"f":62.8,"v":1.65},{"f":64,"v":0.77},{"f":65.6,"v":0.24},{"f":67.5,"v":0.08},{"f":70.4,"v":0.04},{"f":73.2,"v":0.02},{"f":80,"v":0.01},{"f":90,"v":0.005},{"f":100,"v":0.01},{"f":108,"v":0.02},{"f":111,"v":0.05},{"f":114,"v":0.29},{"f":115.7,"v":0.63},{"f":117.6,"v":0.82},{"f":119.5,"v":0.94},{"f":120.8,"v":0.91},{"f":122.3,"v":0.68},{"f":124.2,"v":0.39},{"f":127,"v":0.12},{"f":129.8,"v":0.03},{"f":135,"v":0.01},{"f":150,"v":0.01}
],
"spacer":[{"a":1}]
},
"vconcat":[
{"vconcat":[
 {"hconcat":[
  {"vconcat":[
   {"width":265,"height":82,
    "title":{"text":"A","dx":-37.3,"offset":-5.5},
    "resolve":{"scale":{"x":"independent","y":"independent"}},
    "layer":[
     {"data":{"name":"aTop"},"mark":{"type":"tick","orient":"vertical","size":7,"thickness":2,"color":"#1f1fd0"},
      "encoding":{"x":{"field":"t","type":"quantitative","scale":{"domain":[0,0.5],"nice":false},"axis":{"labels":false,"title":null,"values":[0.1,0.2,0.3,0.4]}},
                  "y":{"field":"r","type":"quantitative","scale":{"domain":[0.5,7.5],"reverse":true,"nice":false,"zero":false},"axis":{"title":"EPSPs","labels":false,"ticks":false}}}},
     {"data":{"name":"boxA"},"mark":{"type":"rect","fill":"white","stroke":"black","strokeWidth":1},
      "encoding":{"x":{"field":"x0","type":"quantitative","scale":{"domain":[-1,1],"range":[196,265],"nice":false,"zero":false},"axis":null},"x2":{"field":"x1"},
                  "y":{"field":"y0","type":"quantitative","scale":{"domain":[-1.1,1.1],"range":[44,0],"nice":false,"zero":false},"axis":null},"y2":{"field":"y1"}}},
     {"data":{"name":"gabor"},"mark":{"type":"line","color":"#1f1fd0","strokeWidth":2,"interpolate":"monotone"},
      "encoding":{"x":{"field":"x","type":"quantitative","scale":{"domain":[-1,1],"range":[196,265],"nice":false,"zero":false},"axis":null},
                  "y":{"field":"y","type":"quantitative","scale":{"domain":[-1.1,1.1],"range":[44,0],"nice":false,"zero":false},"axis":null}}}
    ]},
   {"width":265,"height":82,
    "layer":[
     {"data":{"name":"aWave"},"transform":[{"fold":["w1","w2","w3","w4","w5","w6","w7"],"as":["row","y"]}],
      "mark":{"type":"line","color":"#3a3acc","strokeWidth":0.8,"interpolate":"monotone"},
      "encoding":{"x":{"field":"t","type":"quantitative","scale":{"domain":[0,0.5],"nice":false},"axis":{"values":[0,0.1,0.2,0.3,0.4,0.5],"format":".1f","title":"Time (s)","labelOverlap":false}},
                  "y":{"field":"y","type":"quantitative","scale":{"domain":[0.5,7.5],"reverse":true,"nice":false,"zero":false},"axis":{"title":"Spikes","labels":false,"ticks":false}},
                  "detail":{"field":"row","type":"nominal"}}},
     {"data":{"name":"aSpk"},"mark":{"type":"tick","orient":"vertical","size":8,"thickness":1.8,"color":"#d42030"},
      "encoding":{"x":{"field":"t","type":"quantitative"},"y":{"field":"r","type":"quantitative"}}}
    ]}
  ],"spacing":16,"bounds":"flush"},
  {"vconcat":[
   {"width":265,"height":82,
    "title":{"text":"B","dx":-15.3,"offset":-5.7},
    "resolve":{"scale":{"x":"independent","y":"independent"}},
    "layer":[
     {"data":{"name":"bins"},"mark":{"type":"rect","fill":"#ff0000","stroke":"black","strokeWidth":0.7},
      "encoding":{"x":{"field":"x0","type":"quantitative","scale":{"domain":[-3.1416,3.1416],"nice":false,"zero":false},"axis":{"labels":false,"title":null,"values":[-3,-2,-1,0,1,2,3]}},"x2":{"field":"x1"},
                  "y":{"field":"top","type":"quantitative","scale":{"domain":[0,82],"nice":false},"axis":null},"y2":{"datum":0}}},
     {"data":{"name":"bCurve"},"mark":{"type":"line","color":"black","strokeWidth":1.6,"interpolate":"monotone"},
      "encoding":{"x":{"field":"x","type":"quantitative","scale":{"domain":[-3.1416,3.1416],"nice":false,"zero":false},"axis":null},
                  "y":{"field":"y","type":"quantitative","scale":{"domain":[0,82],"nice":false},"axis":null}}},
     {"data":{"name":"boxB"},"mark":{"type":"rect","fill":"white","stroke":"black","strokeWidth":1.2},
      "encoding":{"x":{"field":"x0","type":"quantitative","scale":{"domain":[-3.1416,3.1416],"range":[11,97],"nice":false,"zero":false},"axis":null},"x2":{"field":"x1"},
                  "y":{"field":"y0","type":"quantitative","scale":{"domain":[0.005,0.53],"range":[56,9],"nice":false,"zero":false},"axis":null},"y2":{"field":"y1"}}},
     {"data":{"name":"vm"},"transform":[{"fold":["k2","k1","k0"],"as":["k","v"]}],
      "mark":{"type":"line","color":"black","strokeWidth":1.4,"interpolate":"monotone"},
      "encoding":{"x":{"field":"x","type":"quantitative","scale":{"domain":[-3.1416,3.1416],"range":[11,97],"nice":false,"zero":false},"axis":null},
                  "y":{"field":"v","type":"quantitative","scale":{"domain":[0.005,0.53],"range":[56,9],"nice":false,"zero":false},"axis":null},
                  "detail":{"field":"k","type":"nominal"}}},
     {"data":{"name":"vmText"},"mark":{"type":"text","align":"left","baseline":"middle","font":"DejaVu Serif","fontSize":8,"fontStyle":"italic"},
      "encoding":{"x":{"field":"x","type":"quantitative","scale":{"domain":[-3.1416,3.1416],"range":[11,97],"nice":false,"zero":false},"axis":null},
                  "y":{"field":"y","type":"quantitative","scale":{"domain":[0.005,0.53],"range":[56,9],"nice":false,"zero":false},"axis":null},
                  "text":{"field":"s"}}}
    ]},
   {"width":265,"height":82,
    "data":{"name":"bins"},"mark":{"type":"rect","fill":"#ff0000","stroke":"black","strokeWidth":0.7},
    "encoding":{"x":{"field":"x0","type":"quantitative","scale":{"domain":[-3.1416,3.1416],"nice":false,"zero":false},"axis":{"values":[-3,-2,-1,0,1,2,3],"format":"d","labelExpr":"replace(datum.label, '−', '-')","title":"Phase (rad)","labelOverlap":false}},"x2":{"field":"x1"},
                "y":{"field":"bot","type":"quantitative","scale":{"domain":[0,82],"nice":false},"axis":null},"y2":{"datum":0}}}
  ],"spacing":16,"bounds":"flush"}
 ],"spacing":16.7},
 {"hconcat":[
  {"vconcat":[
   {"width":266,"height":88,
    "title":{"text":"C","dx":-37.6,"offset":0.3},
    "resolve":{"scale":{"y":"independent"}},
    "layer":[
     {"data":{"name":"cRate"},"mark":{"type":"line","color":"#e8401f","strokeWidth":1.8,"interpolate":"monotone"},
      "encoding":{"x":{"field":"t","type":"quantitative","scale":{"domain":[-0.2,0.2],"nice":false},"axis":null},
                  "y":{"field":"v","type":"quantitative","scale":{"domain":[0,220],"nice":false},"axis":{"values":[0,50,100,150,200],"title":"Rate (s⁻¹)","labelPadding":9,"labelOverlap":false}}}},
     {"data":{"name":"stim"},"mark":{"type":"rule","color":"black","strokeWidth":3},
      "encoding":{"x":{"field":"t0","type":"quantitative"},"x2":{"field":"t1"},"y":{"field":"y","type":"quantitative","scale":{"domain":[0,220],"nice":false},"axis":null}}},
     {"data":{"name":"stimText"},"mark":{"type":"text","align":"left","baseline":"top","fontSize":8.5,"font":"DejaVu Sans"},
      "encoding":{"x":{"field":"t","type":"quantitative"},"y":{"field":"y","type":"quantitative","scale":{"domain":[0,220],"nice":false},"axis":null},"text":{"field":"s"}}}
    ]},
   {"width":266,"height":50,"data":{"name":"cSpk"},
    "mark":{"type":"tick","orient":"vertical","size":3.5,"thickness":1.5,"color":"#e84a2a"},
    "encoding":{"x":{"field":"t","type":"quantitative","scale":{"domain":[-0.2,0.2],"nice":false},"axis":null},
                "y":{"field":"r","type":"quantitative","scale":{"domain":[-0.5,9.5],"reverse":true,"nice":false,"zero":false},"axis":{"title":"Spikes","labels":false,"ticks":false}}}},
   {"width":266,"height":50,"data":{"name":"cEpsp"},
    "mark":{"type":"tick","orient":"vertical","size":3.5,"thickness":1.5,"color":"#2244e0"},
    "encoding":{"x":{"field":"t","type":"quantitative","scale":{"domain":[-0.2,0.2],"nice":false},"axis":{"values":[-0.2,-0.1,0,0.1,0.2],"format":".1f","title":"Time (s)","labelOverlap":false}},
                "y":{"field":"r","type":"quantitative","scale":{"domain":[-0.5,11.5],"reverse":true,"nice":false,"zero":false},"axis":{"title":"EPSPs","labels":false,"ticks":false}}}}
  ],"spacing":0,"bounds":"flush"},
  {"vconcat":[
   {"width":266,"height":88,
    "title":{"text":"D","dx":-9.6,"offset":0.3},
    "resolve":{"scale":{"y":"independent"}},
    "layer":[
     {"data":{"name":"dRate"},"mark":{"type":"line","color":"#e8401f","strokeWidth":1.8,"interpolate":"monotone"},
      "encoding":{"x":{"field":"t","type":"quantitative","scale":{"domain":[-0.2,0.2],"nice":false},"axis":null},
                  "y":{"field":"v","type":"quantitative","scale":{"domain":[0,220],"nice":false},"axis":{"values":[0,50,100,150,200],"title":null,"labelPadding":9,"labelOverlap":false}}}},
     {"data":{"name":"stim"},"mark":{"type":"rule","color":"black","strokeWidth":3},
      "encoding":{"x":{"field":"t0","type":"quantitative"},"x2":{"field":"t1"},"y":{"field":"y","type":"quantitative","scale":{"domain":[0,220],"nice":false},"axis":null}}},
     {"data":{"name":"stimText"},"mark":{"type":"text","align":"left","baseline":"top","fontSize":8.5,"font":"DejaVu Sans"},
      "encoding":{"x":{"field":"t","type":"quantitative"},"y":{"field":"y","type":"quantitative","scale":{"domain":[0,220],"nice":false},"axis":null},"text":{"field":"s"}}}
    ]},
   {"width":266,"height":50,"data":{"name":"dSpk"},
    "mark":{"type":"tick","orient":"vertical","size":3.5,"thickness":1.5,"color":"#e84a2a"},
    "encoding":{"x":{"field":"t","type":"quantitative","scale":{"domain":[-0.2,0.2],"nice":false},"axis":null},
                "y":{"field":"r","type":"quantitative","scale":{"domain":[-0.5,9.5],"reverse":true,"nice":false,"zero":false},"axis":{"title":"Spikes","labels":false,"ticks":false}}}},
   {"width":266,"height":50,"data":{"name":"dEpsp"},
    "mark":{"type":"tick","orient":"vertical","size":3.5,"thickness":1.5,"color":"#2244e0"},
    "encoding":{"x":{"field":"t","type":"quantitative","scale":{"domain":[-0.2,0.2],"nice":false},"axis":{"values":[-0.2,-0.1,0,0.1,0.2],"format":".1f","title":"Time (s)","labelOverlap":false}},
                "y":{"field":"r","type":"quantitative","scale":{"domain":[-0.5,11.5],"reverse":true,"nice":false,"zero":false},"axis":{"title":"EPSPs","labels":false,"ticks":false}}}}
  ],"spacing":0,"bounds":"flush"}
 ],"spacing":7.7}
],"spacing":-0.8},
{"hconcat":[
 {"width":121,"height":82,"data":{"name":"spacer"},"mark":{"type":"text","text":""},"encoding":{},"view":{"stroke":null}},
 {"vconcat":[
  {"width":265,"height":82,
   "title":{"text":"E","dx":-47.3,"offset":-5.7},
   "data":{"name":"ePow"},
   "mark":{"type":"line","color":"#dd1c1c","strokeWidth":1.8,"clip":true,"interpolate":"monotone"},
   "encoding":{"x":{"field":"f","type":"quantitative","scale":{"domain":[0,150],"nice":false},"axis":{"labels":false,"title":null,"values":[20,40,60,80,100,120,140]}},
               "y":{"field":"d","type":"quantitative","scale":{"domain":[-48,-20],"nice":false,"zero":false},"axis":{"values":[-45,-40,-35,-30,-25,-20],"format":"d","labelExpr":"replace(datum.label, '−', '-')","title":"Power (dB)","labelPadding":6.5,"labelOverlap":false}},
               "detail":{"field":"k","type":"nominal"},
               "strokeDash":{"field":"k","type":"nominal","scale":{"domain":["a","b"],"range":[[1,0],[5,3]]},"legend":null}}},
  {"width":265,"height":82,"data":{"name":"eInf"},
   "mark":{"type":"line","color":"#dd1c1c","strokeWidth":1.8,"interpolate":"monotone"},
   "encoding":{"x":{"field":"f","type":"quantitative","scale":{"domain":[0,150],"nice":false},"axis":{"values":[0,20,40,60,80,100,120,140],"title":"Frequency (Hz)","labelOverlap":false}},
               "y":{"field":"v","type":"quantitative","scale":{"domain":[0,2.4],"nice":false},"axis":{"values":[0,0.5,1,1.5,2],"format":".1f","title":"Inf. Rate (bit/s/Hz)","labelPadding":8,"labelOverlap":false}}}}
 ],"spacing":17,"bounds":"flush"}
],"spacing":8.3}
],
"spacing":12.5,
"config":{
 "view":{"stroke":"black","strokeWidth":1},
 "axis":{"labelFont":"DejaVu Sans","titleFont":"DejaVu Sans","labelFontSize":7.5,"titleFontSize":9,"titleFontWeight":"normal","labelColor":"black","titleColor":"black","domain":false,"grid":false,"tickColor":"black","tickSize":-3,"labelPadding":9,"titlePadding":3,"labelOverlap":false},
 "axisX":{"labelPadding":7.5},
 "title":{"font":"Liberation Sans","fontSize":8,"fontWeight":"bold","color":"black","anchor":"start","frame":"group"},
 "text":{"font":"DejaVu Sans","color":"black"}
}
}
